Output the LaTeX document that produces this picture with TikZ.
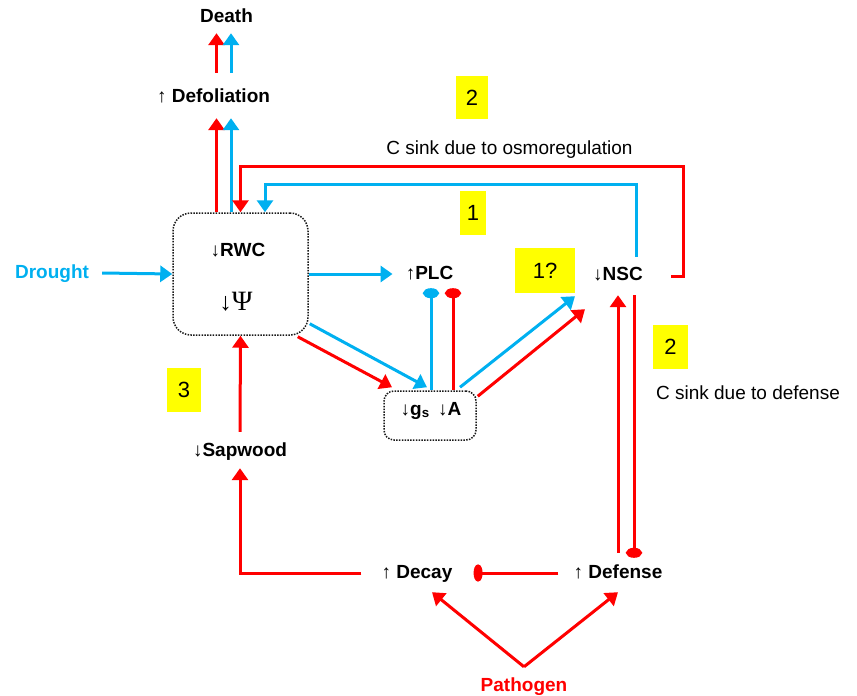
\documentclass[tikz,border=0pt]{standalone}
\usepackage{fontspec}
\setmainfont{Liberation Sans}
\newfontfamily\greekserif{Liberation Serif}
\usetikzlibrary{arrows.meta}
\definecolor{cred}{RGB}{255,0,0}
\definecolor{cblue}{RGB}{0,176,240}
\definecolor{cyel}{RGB}{255,255,0}
\newcommand\upar{{\mdseries ↑}}
\newcommand\dnar{{\mdseries ↓}}
\tikzset{
  lbl/.style={font=\fontsize{19}{22}\selectfont\bfseries, inner sep=1pt,
    text height=14pt, text depth=4pt},
  note/.style={font=\fontsize{19}{22}\selectfont, inner sep=1pt},
  num/.style={fill=cyel, font=\fontsize{22}{26}\selectfont, inner sep=0pt},
  dotbox/.style={draw=black!90, line width=1.5pt, dash pattern=on 1.5pt off 1.3pt,
    rounded corners=18pt, inner sep=0pt},
  link/.style={line width=3pt, -{Triangle[length=12pt,width=16pt]}},
  rlink/.style={link, draw=cred, -{Triangle[length=12pt,width=16pt,fill=cred]}},
  blink/.style={link, draw=cblue, -{Triangle[length=12pt,width=16pt,fill=cblue]}},
  rinhib/.style={line width=3pt, draw=cred, -{Ellipse[length=10pt,width=16pt,fill=cred]}},
  binhib/.style={line width=3pt, draw=cblue, -{Ellipse[length=10pt,width=16pt,fill=cblue]}},
}
\begin{document}
\begin{tikzpicture}[x=1pt,y=1pt]
\useasboundingbox (0,0) rectangle (857,-696);

% labels
\node[lbl] (death) at (226.5,-17) {Death};
\node[lbl] (defol) at (213.5,-97) {\upar{} Defoliation};
\node[dotbox, minimum width=135pt, minimum height=122pt] (box) at (240.5,-274) {};
\node[lbl] (rwc) at (238,-251) {\dnar RWC};
\node[font=\fontsize{25}{28}\selectfont, inner sep=1pt] (psi) at (236,-302) {↓{\greekserif\fontsize{28}{30}\selectfont Ψ}};
\node[lbl, text=cblue] (drought) at (52,-273) {Drought};
\node[lbl] (plc) at (429.5,-274) {\upar PLC};
\node[lbl] (nsc) at (618,-275) {\dnar NSC};
\node[dotbox, minimum width=92pt, minimum height=49pt, rounded corners=10pt] (gsbox) at (430,-415.5) {};
\node[lbl] (gs) at (431,-410) {\dnar g\textsubscript{s}\, \dnar A};
\node[lbl] (sapwood) at (240,-451) {\dnar Sapwood};
\node[lbl] (decay) at (417,-573) {\upar{} Decay};
\node[lbl] (defense) at (618,-573) {\upar{} Defense};
\node[lbl, text=cred] (pathogen) at (524,-686) {Pathogen};

% numbered markers
\node[num, minimum width=32pt, minimum height=43pt] (ntwo) at (472,-97.5) {2};
\node[num, minimum width=26pt, minimum height=44pt] (none) at (473,-213) {1};
\node[num, minimum width=60pt, minimum height=45pt] (nq) at (545,-270.5) {1?};
\node[num, minimum width=35pt, minimum height=44pt] (ntwob) at (670.5,-347) {2};
\node[num, minimum width=34pt, minimum height=44pt] (nthree) at (184,-390) {3};

\node[note] (osmo) at (509.5,-150) {C sink due to osmoregulation};
\node[note] (cdef) at (748,-393) {C sink due to defense};

% bends of the carbon sink loops
\coordinate (rc) at (683,-166);
\coordinate (bc) at (636,-184);

% towards defoliation and death
\draw[rlink] ([xshift=3pt,yshift=14pt]defol.north) -- ([xshift=-10pt,yshift=-6pt]death.south);
\draw[blink] ([xshift=17.5pt,yshift=14pt]defol.north) -- ([xshift=4.5pt,yshift=-6pt]death.south);
\draw[rlink] ([xshift=-24pt]box.north) -- ([xshift=3pt,yshift=-11pt]defol.south);
\draw[blink] ([xshift=-9.5pt]box.north) -- ([xshift=17.5pt,yshift=-11pt]defol.south);

% carbon sink loops back to the water status box
\draw[rlink] ([xshift=27pt,yshift=-1pt]nsc.east) -| (rc) -| (box.north);
\draw[blink] ([xshift=18pt,yshift=8pt]nsc.north) |- (bc) -| ([xshift=24.5pt]box.north);

% drought and water status
\draw[blink] ([xshift=12pt]drought.east) -- (box.west);
\draw[blink] (box.east) -- ([xshift=-12pt]plc.west);
\draw[blink] ([shift={(1pt,12pt)}]box.south east) -- ([shift={(-3pt,3pt)}]gsbox.north);
\draw[rlink] ([shift={(-11pt,-1pt)}]box.south east) -- ([shift={(-38pt,3pt)}]gsbox.north);

% stomata and assimilation
\draw[binhib] ([xshift=1pt]gsbox.north) -- ([xshift=1.5pt,yshift=-4pt]plc.south);
\draw[rinhib] ([xshift=23pt]gsbox.north) -- ([xshift=23.5pt,yshift=-4pt]plc.south);
\draw[blink] ([xshift=30pt,yshift=3pt]gsbox.north) -- ([shift={(-17pt,-11pt)}]nsc.south west);
\draw[rlink] ([shift={(1pt,-6pt)}]gsbox.north east) -- ([shift={(-7pt,-24pt)}]nsc.south west);

% carbon and defense
\draw[rlink] ([yshift=10pt]defense.north) -- ([yshift=-10pt]nsc.south);
\draw[rinhib] ([xshift=16pt,yshift=-10pt]nsc.south) -- ([xshift=16pt,yshift=5pt]defense.north);

% sapwood and decay
\draw[rlink] ([yshift=9pt]sapwood.north) -- (box.south);
\draw[rlink] ([xshift=-19pt]decay.west) -| ([yshift=-7pt]sapwood.south);
\draw[line width=3pt, draw=cred, -{Ellipse[length=9pt,width=17pt,fill=cred]}]
  ([xshift=-14pt]defense.west) -- ([xshift=20pt]decay.east);

% pathogen
\draw[rlink] ([yshift=9pt]pathogen.north) -- ([shift={(15pt,-9pt)}]decay.south);
\draw[rlink] ([yshift=9pt]pathogen.north) -- ([yshift=-9pt]defense.south);
\end{tikzpicture}
\end{document}
